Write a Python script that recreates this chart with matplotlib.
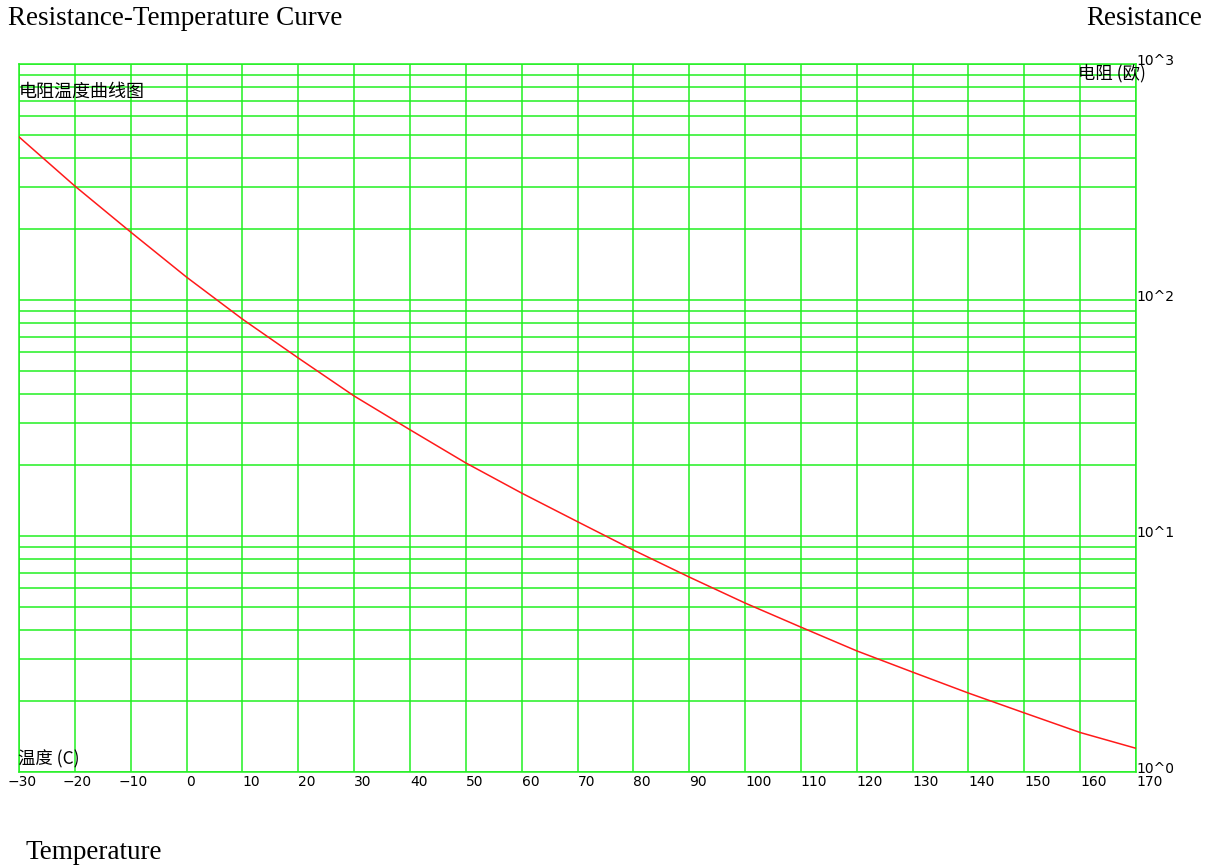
import matplotlib
matplotlib.use("Agg")
import matplotlib.pyplot as plt
from matplotlib.ticker import LogLocator, NullFormatter, FixedLocator

# Data
temps = [-30, -20, -10, 0, 10, 20, 30, 40, 50, 60, 70, 80, 90,
         100, 110, 120, 130, 140, 150, 160, 170]
resistance = [491, 304, 194, 125, 83, 56.8, 39.2, 28.2, 20.4, 15.2, 11.5,
              8.72, 6.70, 5.20, 4.11, 3.26, 2.65, 2.16, 1.78, 1.47, 1.26]
x_ticks = list(range(-30, 171, 10))
y_ticks = [1, 10, 100, 1000]
y_labels = ["10^0", "10^1", "10^2", "10^3"]

W, H = 1208, 868
GRID = "#22f022"
CJK = ["Noto Sans CJK SC", "DejaVu Sans"]
SERIF = "Liberation Serif"


def fx(px):
    return px / W


def fy(py):
    return 1 - py / H


fig = plt.figure(figsize=(W / 100, H / 100), dpi=100)
left, right, top, bottom = 19, 1136, 64, 772
ax = fig.add_axes([fx(left), fy(bottom), fx(right - left), (bottom - top) / H])

ax.plot(temps, resistance, color="#ff1a1a", linewidth=1.1, zorder=3)

ax.set_yscale("log")
ax.set_xlim(-30, 170)
ax.set_ylim(1, 1000)

ax.xaxis.set_major_locator(FixedLocator(x_ticks))
ax.yaxis.set_major_locator(FixedLocator(y_ticks))
ax.yaxis.set_minor_locator(LogLocator(base=10, subs=range(2, 10)))
ax.yaxis.set_minor_formatter(NullFormatter())
ax.set_xticklabels([])
ax.set_yticklabels([])
ax.tick_params(which="both", length=0)

ax.grid(True, which="both", color=GRID, linewidth=1.1)
ax.set_axisbelow(True)
for s in ax.spines.values():
    s.set_color(GRID)
    s.set_linewidth(1.1)

# x tick labels: digits start at the grid line, minus sign hangs to the left
for t in x_ticks:
    label = str(abs(t))
    off = 0
    if t < 0:
        label = "\u2212" + label
        off = -8.6
    ax.annotate(label, xy=(t, 0), xycoords=("data", "axes fraction"),
                xytext=(off, -2), textcoords="offset points",
                ha="left", va="top", fontsize=10, annotation_clip=False)

# decade labels on the right edge, sitting a little above their grid line
for v, lab in zip(y_ticks, y_labels):
    ax.annotate(lab, xy=(1, v), xycoords=("axes fraction", "data"),
                xytext=(0, 2), textcoords="offset points",
                ha="left", va="center", fontsize=10, annotation_clip=False)

# Chinese labels inside the chart
fig.text(fx(19), fy(92), "电阻温度曲线图", family=CJK, fontsize=13,
         ha="left", va="center")
fig.text(fx(1146), fy(73), "电阻 (欧)", family=CJK, fontsize=12.5,
         ha="right", va="center")
fig.text(fx(18), fy(759), "温度 (C)", family=CJK, fontsize=12.5,
         ha="left", va="center")

# Outer captions
fig.text(fx(8), fy(25), "Resistance-Temperature Curve", family=SERIF,
         fontsize=19.5, ha="left", va="baseline")
fig.text(fx(1202), fy(25), "Resistance", family=SERIF,
         fontsize=19.5, ha="right", va="baseline")
fig.text(fx(25), fy(859), "Temperature", family=SERIF,
         fontsize=19.5, ha="left", va="baseline")

fig.savefig("out.png", dpi=100)
plt.close(fig)
